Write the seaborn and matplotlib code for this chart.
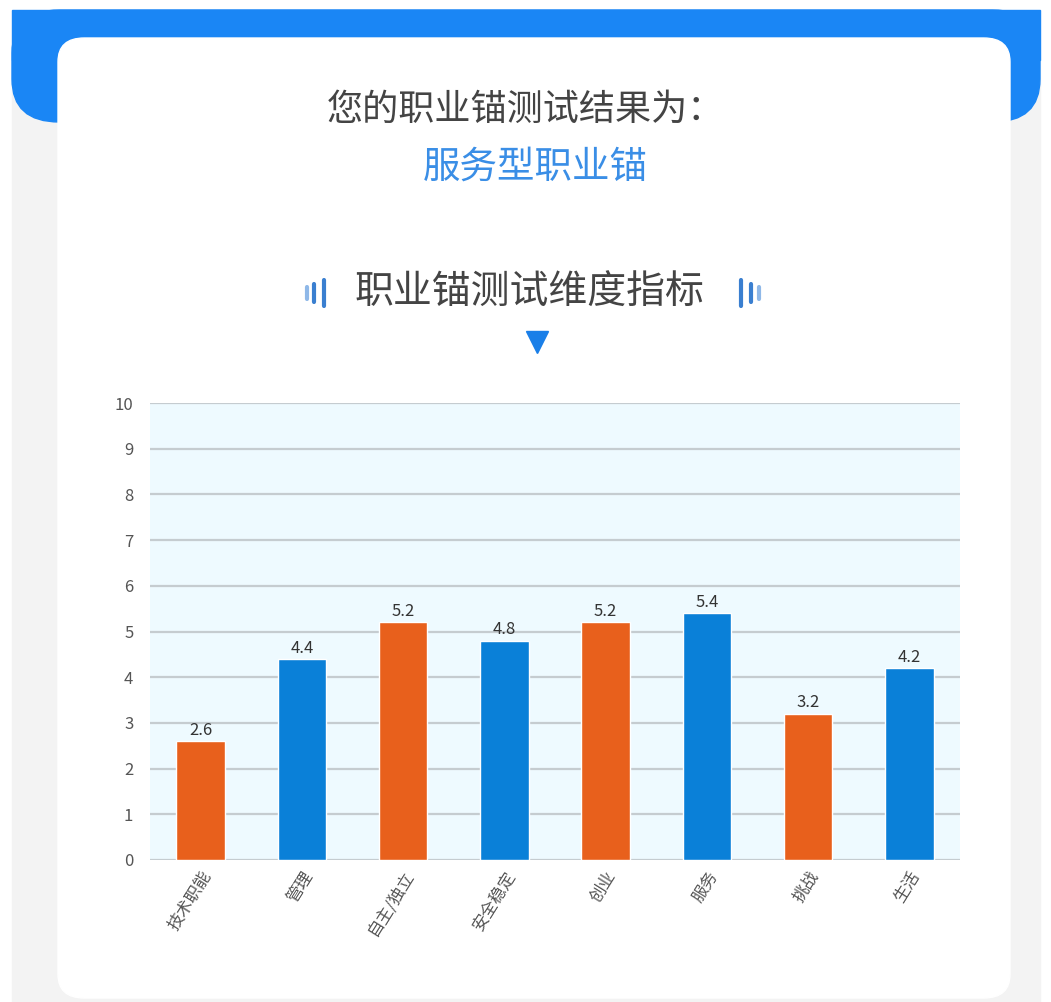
import matplotlib
matplotlib.use('Agg')
import matplotlib.pyplot as plt
import seaborn as sns
import pandas as pd
from matplotlib.patches import FancyBboxPatch, Rectangle
from matplotlib.lines import Line2D

# chart data
categories = ['技术职能', '管理', '自主/独立', '安全稳定', '创业', '服务', '挑战', '生活']
scores = [2.6, 4.4, 5.2, 4.8, 5.2, 5.4, 3.2, 4.2]
bar_colors = ['#e8601c', '#0a80d8', '#e8601c', '#0a80d8',
              '#e8601c', '#0a80d8', '#e8601c', '#0a80d8']
y_ticks = list(range(0, 11))

header_text = '您的职业锚测试结果为：'
result_text = '服务型职业锚'
chart_title = '职业锚测试维度指标'

W, H = 1051, 1002


def fx(px):
    return px / W


def fy(py):
    return 1 - py / H


def main():
    sns.set_style('white')
    plt.rcParams['font.family'] = ['Noto Sans CJK SC', 'DejaVu Sans']

    fig = plt.figure(figsize=(W / 100, H / 100), dpi=100)
    fig.patch.set_facecolor('white')

    # page background and blue header band
    fig.add_artist(Rectangle((fx(12), 0), fx(1040) - fx(12), fy(60),
                             transform=fig.transFigure, color='#f3f3f3', zorder=0))
    fig.add_artist(FancyBboxPatch((fx(12), fy(122)), fx(1040) - fx(12), fy(10) - fy(122),
                                  boxstyle='round,pad=0,rounding_size=0.045',
                                  transform=fig.transFigure, color='#1a86f5',
                                  mutation_aspect=H / W, zorder=1))
    fig.add_artist(Rectangle((fx(12), fy(60)), fx(1040) - fx(12), fy(10) - fy(60),
                             transform=fig.transFigure, color='#1a86f5', zorder=1))
    # white card
    fig.add_artist(FancyBboxPatch((fx(58), fy(998)), fx(1010) - fx(58), fy(38) - fy(998),
                                  boxstyle='round,pad=0,rounding_size=0.025',
                                  transform=fig.transFigure, color='white',
                                  mutation_aspect=H / W, zorder=2))

    fig.text(fx(525), fy(110), header_text, ha='center', va='center',
             fontsize=26, color='#444444', fontweight='medium', zorder=3)
    fig.text(fx(535), fy(167), result_text, ha='center', va='center',
             fontsize=27, color='#3a8ee6', fontweight='medium', zorder=3)
    fig.text(fx(529), fy(293), chart_title, ha='center', va='center',
             fontsize=28, color='#444444', fontweight='medium', zorder=3)

    # little decorative bars beside the chart title
    for x0, y_top, y_bot, c in [(307, 287, 299, '#8fb8e8'), (314, 284, 302, '#3a7fd0'),
                                (324, 280, 306, '#3a7fd0'),
                                (741, 280, 306, '#3a7fd0'), (751, 284, 302, '#3a7fd0'),
                                (759, 287, 299, '#8fb8e8')]:
        fig.add_artist(Line2D([fx(x0), fx(x0)], [fy(y_bot), fy(y_top)],
                              transform=fig.transFigure, color=c, lw=3,
                              solid_capstyle='round', zorder=3))
    fig.add_artist(Line2D([fx(537)], [fy(342)], transform=fig.transFigure,
                          marker='v', markersize=16, color='#1a7fe8', zorder=3))

    # bar chart
    ax = fig.add_axes([fx(150), fy(860), fx(960) - fx(150), fy(403) - fy(860)])
    ax.set_zorder(4)
    ax.set_facecolor('#eefaff')

    df = pd.DataFrame({'category': categories, 'score': scores})
    sns.barplot(data=df, x='category', y='score', hue='category',
                palette=bar_colors, saturation=1, legend=False, width=0.48,
                ax=ax, zorder=3)

    for i, v in enumerate(scores):
        ax.text(i, v + 0.05, f'{v:.1f}', ha='center', va='bottom',
                fontsize=12, color='#333333', zorder=4)

    ax.set_ylim(0, 10)
    ax.set_xlim(-0.5, len(categories) - 0.5)
    ax.set_yticks(y_ticks)
    ax.set_yticklabels([str(t) for t in y_ticks], fontsize=12, color='#555555')
    ax.yaxis.grid(True, color='#c5ccd0', lw=1.6)
    ax.set_axisbelow(True)
    ax.tick_params(axis='y', length=0, pad=12)
    ax.tick_params(axis='x', length=0, pad=6)
    ax.set_xticks(range(len(categories)))
    ax.set_xticklabels(categories, rotation=58, ha='right', rotation_mode='anchor',
                       fontsize=12, color='#555555')
    ax.set_xlabel('')
    ax.set_ylabel('')
    for s in ax.spines.values():
        s.set_visible(False)

    fig.savefig('out.png', dpi=100)


if __name__ == '__main__':
    main()
